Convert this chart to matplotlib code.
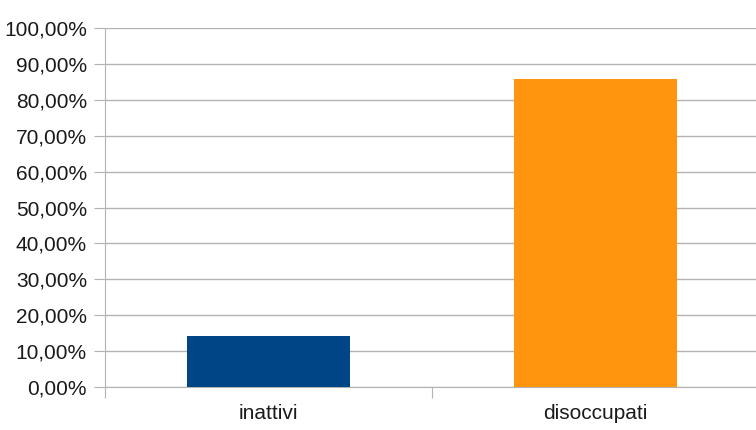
import matplotlib.pyplot as plt

# data
categories = ["inattivi", "disoccupati"]
values = [14.2, 85.8]
colors = ["#004586", "#ff950e"]
y_ticks = [0, 10, 20, 30, 40, 50, 60, 70, 80, 90, 100]

plt.rcParams['font.family'] = ['Liberation Sans', 'DejaVu Sans']

fig = plt.figure(figsize=(7.56, 4.3), dpi=100)
ax = fig.add_axes([105 / 756, 1 - 387 / 430, 654 / 756, 359 / 430])

x = list(range(len(categories)))
ax.bar([i + 0.5 for i in x], values, width=0.5, color=colors, zorder=3)

ax.set_xlim(0, len(categories))
ax.set_ylim(0, 100)
ax.set_yticks(y_ticks)
ax.set_yticklabels([f"{v:.2f}%".replace(".", ",") for v in y_ticks])
ax.yaxis.grid(True, color="#b3b3b3", linewidth=1, zorder=0)

# category boundaries as ticks, names centred below
ax.set_xticks(range(len(categories) + 1))
ax.set_xticklabels([])
ax.set_xticks([i + 0.5 for i in x], minor=True)
ax.set_xticklabels(categories, minor=True)
ax.tick_params(axis="x", which="minor", length=0, pad=12, labelsize=15, labelcolor="#1a1a1a")
ax.tick_params(axis="x", which="major", length=8, color="#b3b3b3")
ax.tick_params(axis="y", length=8, color="#b3b3b3", pad=5, labelsize=15, labelcolor="#1a1a1a")

for s in ["top", "right"]:
    ax.spines[s].set_visible(False)
for s in ["left", "bottom"]:
    ax.spines[s].set_color("#b3b3b3")

fig.savefig("out.png", dpi=100)
